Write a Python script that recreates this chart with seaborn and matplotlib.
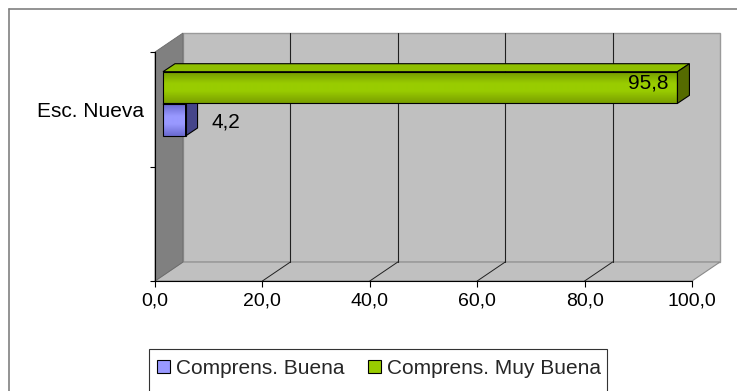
import matplotlib
matplotlib.use("Agg")
import matplotlib.pyplot as plt
import seaborn as sns
import pandas as pd
import numpy as np
from matplotlib.patches import Polygon, Rectangle, Patch
from matplotlib.lines import Line2D
from matplotlib.transforms import ScaledTranslation, IdentityTransform
from matplotlib.colors import LinearSegmentedColormap

# ---- data ----
categories = ["Esc. Nueva"]
series = ["Comprens. Buena", "Comprens. Muy Buena"]
buena = [4.2]
muy_buena = [95.8]
x_ticks = [0, 20, 40, 60, 80, 100]

sns.set_theme(style="white")
plt.rcParams["font.family"] = ["Liberation Sans", "DejaVu Sans"]

W, H = 737, 391
fig = plt.figure(figsize=(W / 100, H / 100), dpi=100)
fig.patch.set_facecolor("white")


def fx(px):
    return px / W


def fy(py):
    return 1 - py / H


# front plane of the 3-D box (pixel extents)
X0, X1, Y0, Y1 = 155, 692, 52, 281
DEPTH = (28, 19)          # box depth offset in pixels (right, up)
BAR_PLANE = (8, 5.4)      # bars sit a little behind the front plane
BAR_DEPTH = (12, 8)       # thickness of each bar

ax = fig.add_axes([fx(X0), fy(Y1), fx(X1) - fx(X0), (Y1 - Y0) / H])
ax.set_facecolor("none")

df = pd.DataFrame({
    "escuela": categories * 2,
    "nivel": [series[0]] * len(categories) + [series[1]] * len(categories),
    "valor": buena + muy_buena,
})
palette = {series[0]: "#9999ff", series[1]: "#99cc00"}
sns.barplot(data=df, x="valor", y="escuela", hue="nivel",
            hue_order=[series[1], series[0]], palette=palette, orient="h",
            width=0.57, gap=0.03, edgecolor="black", linewidth=0.8,
            saturation=1, legend=False, ax=ax)
bars = list(ax.patches)

ax.set_xlim(0, 100)
ax.set_ylim(1.5, -0.5)
ax.set_xlabel("")
ax.set_ylabel("")

# ---- axes styling ----
for s in ["top", "right"]:
    ax.spines[s].set_visible(False)
for s in ["left", "bottom"]:
    ax.spines[s].set_color("black")
    ax.spines[s].set_linewidth(0.8)
    ax.spines[s].set_zorder(2.5)

ax.set_xticks(x_ticks)
ax.set_xticklabels([f"{v:.1f}".replace(".", ",") for v in x_ticks])
ax.tick_params(axis="x", which="major", direction="out", length=4.3, width=0.8,
               color="black", pad=4.0, labelsize=14, labelcolor="black", bottom=True)
ax.set_yticks([0])
ax.set_yticklabels(categories)
ax.set_yticks([-0.5, 0.5, 1.5], minor=True)
ax.tick_params(axis="y", which="major", length=0, pad=8, labelsize=15, labelcolor="black")
ax.tick_params(axis="y", which="minor", direction="out", length=3.6, width=0.8,
               color="black", left=True)
ax.grid(False)


def disp(x, y, dx=0.0, dy=0.0):
    p = ax.transData.transform((x, y))
    return (p[0] + dx, p[1] + dy)


def add_poly(pts, fc, ec, lw, z):
    ax.add_patch(Polygon(pts, closed=True, facecolor=fc, edgecolor=ec, linewidth=lw,
                         transform=IdentityTransform(), clip_on=False, zorder=z))


dx, dy = DEPTH
ytop, ybot = -0.5, 1.5
# back wall
add_poly([disp(0, ytop, dx, dy), disp(100, ytop, dx, dy),
          disp(100, ybot, dx, dy), disp(0, ybot, dx, dy)], "#c0c0c0", "#9a9a9a", 1.0, 0.1)
# floor
add_poly([disp(0, ybot), disp(100, ybot), disp(100, ybot, dx, dy), disp(0, ybot, dx, dy)],
         "#c0c0c0", "#8a8a8a", 0.8, 0.1)
# left side wall
add_poly([disp(0, ytop), disp(0, ytop, dx, dy), disp(0, ybot, dx, dy), disp(0, ybot)],
         "#808080", "#6a6a6a", 0.6, 0.12)

# gridlines on the back wall and their projection on the floor
for v in x_ticks[1:-1]:
    a, b = disp(v, ytop, dx, dy), disp(v, ybot, dx, dy)
    ax.add_line(Line2D([a[0], b[0]], [a[1], b[1]], color="#202020", lw=0.8,
                       transform=IdentityTransform(), clip_on=False, zorder=0.2))
    c = disp(v, ybot)
    ax.add_line(Line2D([c[0], b[0]], [c[1], b[1]], color="#202020", lw=0.7,
                       transform=IdentityTransform(), clip_on=False, zorder=0.2))

# ---- 3-D bars ----
bar_off = ScaledTranslation(BAR_PLANE[0] / 100, BAR_PLANE[1] / 100, fig.dpi_scale_trans)
bar_tr = ax.transData + bar_off

styles = {
    series[1]: dict(grad=["#739900", "#99cc00", "#99cc00", "#7a9f00"], top="#8fbf00",
                    side="#556b00", z=4),
    series[0]: dict(grad=["#6a6ad0", "#9999ff", "#9999ff", "#6a6ad0"], top="#8888ee",
                    side="#45458a", z=3),
}
grad = np.linspace(0, 1, 64).reshape(-1, 1)
bar_info = {}
for bar, name in zip(bars, [series[1], series[0]]):
    st = styles[name]
    bar.set_transform(bar_tr)
    x0, y0, w, h = bar.get_x(), bar.get_y(), bar.get_width(), bar.get_height()
    cmap = LinearSegmentedColormap.from_list(
        name, list(zip([0, 0.38, 0.62, 1], st["grad"])))
    im = ax.imshow(grad, cmap=cmap, extent=(x0, x0 + w, y0 + h, y0), aspect="auto",
                   origin="upper", interpolation="bilinear", transform=bar_tr,
                   zorder=st["z"])
    im.set_clip_path(bar)
    bar.set_facecolor("none")
    bar.set_zorder(st["z"] + 0.2)
    bar.set_clip_on(False)
    p1 = bar_tr.transform((x0, y0))
    p2 = bar_tr.transform((x0 + w, y0 + h))
    xl, xr = min(p1[0], p2[0]), max(p1[0], p2[0])
    yt, yb = max(p1[1], p2[1]), min(p1[1], p2[1])
    bx, by = BAR_DEPTH
    add_poly([(xl, yt), (xr, yt), (xr + bx, yt + by), (xl + bx, yt + by)],
             st["top"], "black", 0.8, st["z"] + 0.1)
    add_poly([(xr, yt), (xr + bx, yt + by), (xr + bx, yb + by), (xr, yb)],
             st["side"], "black", 0.8, st["z"] + 0.1)
    bar_info[name] = (x0 + w, y0 + h / 2)

ax.set_xlim(0, 100)
ax.set_ylim(1.5, -0.5)

# value labels
v_mb = muy_buena[0]
v_b = buena[0]
xe, yc = bar_info[series[1]]
ax.annotate(f"{v_mb:.1f}".replace(".", ","), xy=(xe, yc), xycoords=bar_tr,
            xytext=(-6.5, 3.0), textcoords="offset points", ha="right", va="center",
            fontsize=15, color="black", zorder=6)
xe, yc = bar_info[series[0]]
ax.annotate(f"{v_b:.1f}".replace(".", ","), xy=(xe, yc), xycoords=bar_tr,
            xytext=(19.0, -1.0), textcoords="offset points", ha="left", va="center",
            fontsize=15, color="black", zorder=6)

# ---- legend ----
handles = [Patch(facecolor=palette[s], edgecolor="black", linewidth=0.8, label=s)
           for s in series]
fig.legend(handles=handles, loc="center left", bbox_to_anchor=(fx(157), fy(368)),
           ncol=2, frameon=False, fontsize=15, handlelength=0.6, handleheight=0.6,
           handletextpad=0.3, columnspacing=1.15, borderpad=0, borderaxespad=0)
fig.add_artist(Rectangle((fx(149), fy(400)), fx(607) - fx(149), (400 - 349) / H,
                         transform=fig.transFigure, fill=False, edgecolor="#333333",
                         linewidth=0.8))

# ---- chart area border ----
fig.add_artist(Line2D([fx(9), fx(9)], [fy(9), fy(400)], transform=fig.transFigure,
                      color="#808080", lw=1.2))
fig.add_artist(Line2D([fx(9), fx(745)], [fy(9), fy(9)], transform=fig.transFigure,
                      color="#808080", lw=1.2))

fig.savefig("out.png", dpi=100)
